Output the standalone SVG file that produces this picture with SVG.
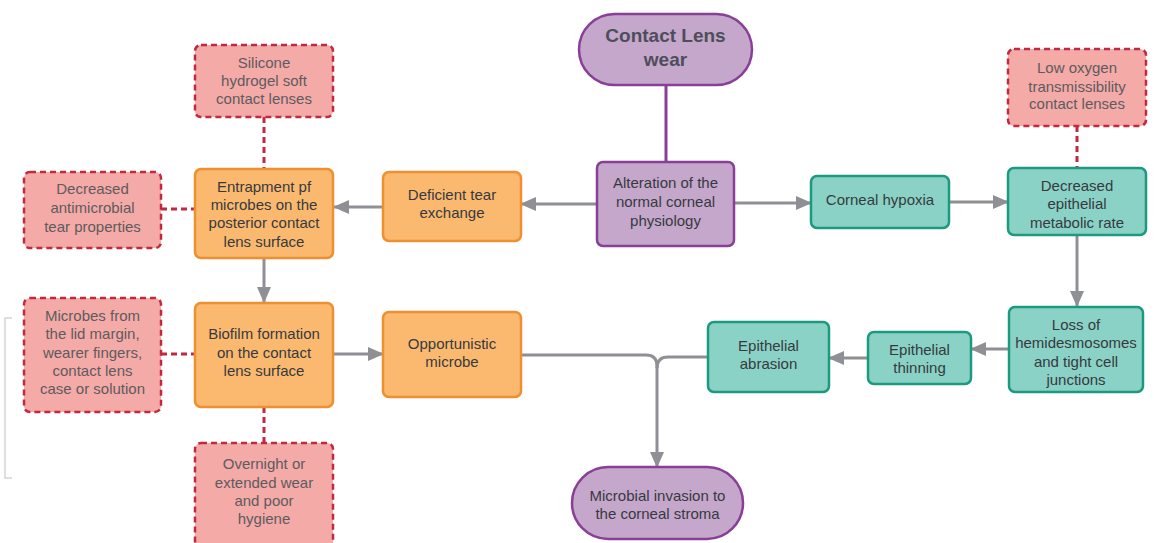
<svg xmlns="http://www.w3.org/2000/svg" width="1154" height="543" viewBox="0 0 1154 543">
<style>
text{font-family:"Liberation Sans",Arial,sans-serif;font-size:15px;text-anchor:middle;fill:#363a40}
.or rect{fill:#fbb96f;stroke:#ee902f;stroke-width:2.5}
.tl rect{fill:#8ad2c5;stroke:#1c9a80;stroke-width:2.5}
.pu rect{fill:#c4a7cb;stroke:#893e97;stroke-width:2.5}
.pk rect{fill:#f4aaa7;stroke:#c2283f;stroke-width:2.5;stroke-dasharray:6 4}
.pk text{fill:#5e5b60}
.hd text{font-weight:bold;font-size:19px;fill:#4d4e5a}
.c{fill:none;stroke:#8f9096;stroke-width:3}
.d{fill:none;stroke:#c2283f;stroke-width:3;stroke-dasharray:6 4}
.p{fill:none;stroke:#893e97;stroke-width:3}
</style>
<defs>
<marker id="ah" markerUnits="userSpaceOnUse" markerWidth="16" markerHeight="14" refX="15" refY="7" orient="auto">
<path d="M0,0 L16,7 L0,14 Z" fill="#8f9096"/>
</marker>
</defs>
<rect width="1154" height="543" fill="#fff"/>
<path d="M12,318 H5 V478 H12" fill="none" stroke="#d4d4d4" stroke-width="1.5"/>
<g id="connectors">
<path class="p" d="M666,85 V162"/>
<path class="c" d="M597,204 H521" marker-end="url(#ah)"/>
<path class="c" d="M383,207 H334" marker-end="url(#ah)"/>
<path class="c" d="M734,203 H811" marker-end="url(#ah)"/>
<path class="c" d="M949,202 H1008" marker-end="url(#ah)"/>
<path class="c" d="M1077,235 V306" marker-end="url(#ah)"/>
<path class="c" d="M1009,349 H971" marker-end="url(#ah)"/>
<path class="c" d="M868,358 H829" marker-end="url(#ah)"/>
<path class="c" d="M264,258 V302" marker-end="url(#ah)"/>
<path class="c" d="M333,354 H383" marker-end="url(#ah)"/>
<path class="c" d="M521,355 H646 Q657,355 657,366 V467" marker-end="url(#ah)"/>
<path class="c" d="M708,357 H668 Q657,357 657,368"/>
<path class="d" d="M264,117 V169"/>
<path class="d" d="M161,209 H195"/>
<path class="d" d="M1077,126 V168"/>
<path class="d" d="M161,354 H195"/>
<path class="d" d="M264,407 V443"/>
</g>
<g id="n-wear" class="pu hd"><rect x="579" y="14" width="173" height="71" rx="35.5"/><text x="665.5" y="42">Contact Lens</text><text x="665.5" y="66">wear</text></g>
<g id="n-alteration" class="pu"><rect x="597" y="162" width="137" height="84" rx="6"/><text x="665.5" y="188">Alteration of the</text><text x="665.5" y="207">normal corneal</text><text x="665.5" y="226">physiology</text></g>
<g id="n-deficient" class="or"><rect x="383" y="172" width="138" height="69" rx="6"/><text x="452" y="200">Deficient tear</text><text x="452" y="218">exchange</text></g>
<g id="n-entrapment" class="or"><rect x="195" y="169" width="138" height="89" rx="6"/><text x="264" y="192">Entrapment pf</text><text x="264" y="210">microbes on the</text><text x="264" y="228">posterior contact</text><text x="264" y="247">lens surface</text></g>
<g id="n-silicone" class="pk"><rect x="195" y="45" width="138" height="72" rx="6"/><text x="264" y="68">Silicone</text><text x="264" y="86">hydrogel soft</text><text x="264" y="104">contact lenses</text></g>
<g id="n-antimicrobial" class="pk"><rect x="24" y="172" width="137" height="76" rx="6"/><text x="92.5" y="194">Decreased</text><text x="92.5" y="213">antimicrobial</text><text x="92.5" y="232">tear properties</text></g>
<g id="n-biofilm" class="or"><rect x="195" y="303" width="138" height="104" rx="6"/><text x="264" y="339">Biofilm formation</text><text x="264" y="358">on the contact</text><text x="264" y="376">lens surface</text></g>
<g id="n-microbes" class="pk"><rect x="24" y="298" width="137" height="114" rx="6"/><text x="92.5" y="321">Microbes from</text><text x="92.5" y="339">the lid margin,</text><text x="92.5" y="358">wearer fingers,</text><text x="92.5" y="376">contact lens</text><text x="92.5" y="394">case or solution</text></g>
<g id="n-overnight" class="pk"><rect x="195" y="443" width="138" height="104" rx="6"/><text x="264" y="469">Overnight or</text><text x="264" y="488">extended wear</text><text x="264" y="506">and poor</text><text x="264" y="524">hygiene</text></g>
<g id="n-opportunistic" class="or"><rect x="383" y="312" width="138" height="85" rx="6"/><text x="452" y="349">Opportunistic</text><text x="452" y="367">microbe</text></g>
<g id="n-invasion" class="pu"><rect x="572" y="467" width="171" height="72" rx="36"/><text x="657.5" y="501">Microbial invasion to</text><text x="657.5" y="519">the corneal stroma</text></g>
<g id="n-hypoxia" class="tl"><rect x="811" y="176" width="138" height="52" rx="6"/><text x="880" y="205">Corneal hypoxia</text></g>
<g id="n-metabolic" class="tl"><rect x="1008" y="168" width="138" height="67" rx="6"/><text x="1077" y="191">Decreased</text><text x="1077" y="209">epithelial</text><text x="1077" y="228">metabolic rate</text></g>
<g id="n-lowoxygen" class="pk"><rect x="1008" y="49" width="138" height="77" rx="6"/><text x="1077" y="73">Low oxygen</text><text x="1077" y="92">transmissibility</text><text x="1077" y="109">contact lenses</text></g>
<g id="n-loss" class="tl"><rect x="1009" y="307" width="134" height="85" rx="6"/><text x="1076" y="330">Loss of</text><text x="1076" y="348">hemidesmosomes</text><text x="1076" y="367">and tight cell</text><text x="1076" y="385">junctions</text></g>
<g id="n-thinning" class="tl"><rect x="868" y="332" width="103" height="52" rx="6"/><text x="919.5" y="355">Epithelial</text><text x="919.5" y="373">thinning</text></g>
<g id="n-abrasion" class="tl"><rect x="708" y="322" width="121" height="70" rx="6"/><text x="768.5" y="351">Epithelial</text><text x="768.5" y="369">abrasion</text></g>
</svg>
